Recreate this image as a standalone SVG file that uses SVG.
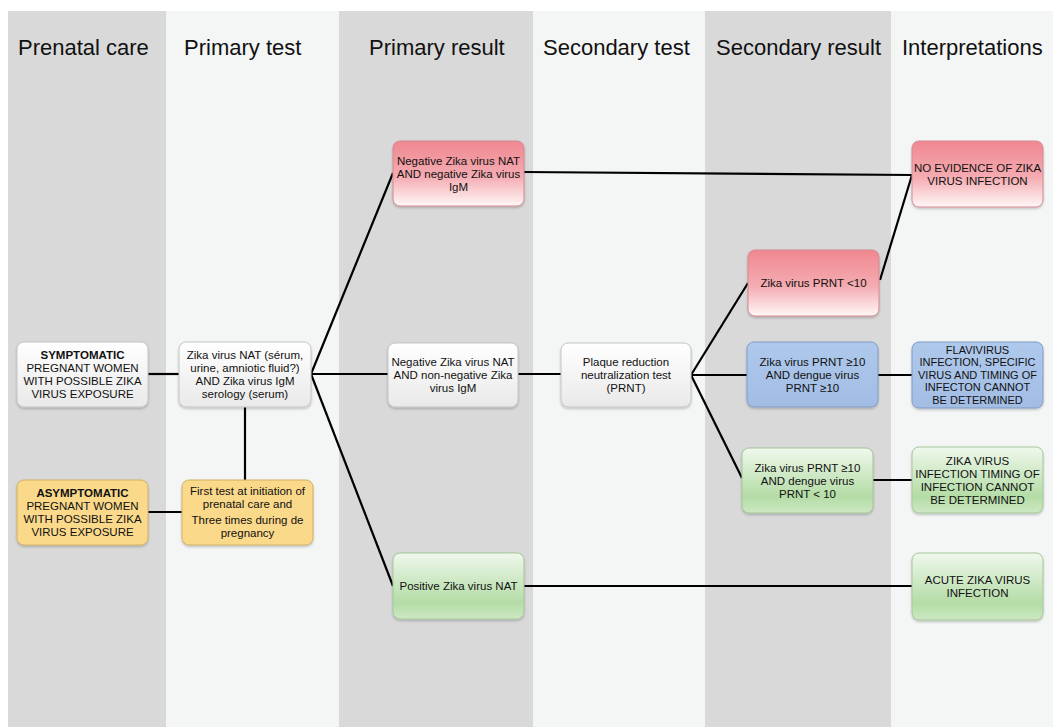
<svg xmlns="http://www.w3.org/2000/svg" width="1053" height="727" viewBox="0 0 1053 727">
<style>
.hdr{font-family:"Liberation Sans",Arial,sans-serif;font-size:22px;fill:#111}
.t{font-family:"Liberation Sans",Arial,sans-serif;font-size:11.5px;fill:#111;text-anchor:middle}
.s{font-size:11px}
.b{font-weight:bold}
.box{stroke-width:1;filter:url(#sh)}
.w{fill:url(#gw);stroke:#c4c4c4}
.r{fill:url(#gr);stroke:#d48a90}
.bl{fill:url(#gb);stroke:#7f9cc7}
.g{fill:url(#gg);stroke:#a5c69a}
.y{fill:#fbd98b;stroke:#d2b064}
.ln{stroke:#000;stroke-width:2.2;fill:none}
</style>
<defs>
<linearGradient id="gw" x1="0" y1="0" x2="0" y2="1"><stop offset="0" stop-color="#ffffff"/><stop offset="1" stop-color="#e9e9e9"/></linearGradient>
<linearGradient id="gr" x1="0" y1="0" x2="0" y2="1"><stop offset="0" stop-color="#f08790"/><stop offset="0.55" stop-color="#f4acb2"/><stop offset="1" stop-color="#fff7f7"/></linearGradient>
<linearGradient id="gb" x1="0" y1="0" x2="0" y2="1"><stop offset="0" stop-color="#afc9ec"/><stop offset="1" stop-color="#a2bce4"/></linearGradient>
<linearGradient id="gg" x1="0" y1="0" x2="0" y2="1"><stop offset="0" stop-color="#eff8ec"/><stop offset="0.75" stop-color="#b4dca6"/><stop offset="1" stop-color="#cde8c3"/></linearGradient>
<filter id="sh" x="-10%" y="-10%" width="120%" height="130%"><feDropShadow dx="0" dy="1.5" stdDeviation="1.2" flood-color="#000" flood-opacity="0.22"/></filter>
</defs>
<rect x="0" y="0" width="1053" height="727" fill="#ffffff"/>
<g id="bands">
<rect x="8" y="11" width="158" height="716" fill="#d9d9d9"/>
<rect x="166" y="11" width="173" height="716" fill="#f4f5f5"/>
<rect x="339" y="11" width="194" height="716" fill="#d9d9d9"/>
<rect x="533" y="11" width="172" height="716" fill="#f4f5f5"/>
<rect x="705" y="11" width="186" height="716" fill="#d9d9d9"/>
<rect x="891" y="11" width="162" height="716" fill="#f4f5f5"/>
</g>
<g id="headers">
<text class="hdr" x="18" y="55">Prenatal care</text>
<text class="hdr" x="184" y="55">Primary test</text>
<text class="hdr" x="369" y="55">Primary result</text>
<text class="hdr" x="543" y="55">Secondary test</text>
<text class="hdr" x="716" y="55">Secondary result</text>
<text class="hdr" x="902" y="55">Interpretations</text>
</g>
<g id="connectors">
<line class="ln" x1="148" y1="374" x2="179" y2="374"/>
<line class="ln" x1="245" y1="407" x2="245" y2="480"/>
<line class="ln" x1="148" y1="512" x2="182" y2="512"/>
<line class="ln" x1="311" y1="374" x2="393" y2="173"/>
<line class="ln" x1="311" y1="374" x2="388" y2="374"/>
<line class="ln" x1="311" y1="374" x2="393" y2="586"/>
<line class="ln" x1="524" y1="172" x2="912" y2="175"/>
<line class="ln" x1="518" y1="374" x2="561" y2="374"/>
<line class="ln" x1="691" y1="375" x2="748" y2="283"/>
<line class="ln" x1="691" y1="375" x2="747" y2="375"/>
<line class="ln" x1="691" y1="375" x2="742" y2="478"/>
<line class="ln" x1="880" y1="280" x2="912" y2="175"/>
<line class="ln" x1="878" y1="375" x2="912" y2="375"/>
<line class="ln" x1="873" y1="480" x2="912" y2="480"/>
<line class="ln" x1="524" y1="586" x2="912" y2="586"/>
</g>
<g id="symptomatic">
<rect class="box w" x="17" y="342" width="131" height="65" rx="7"/>
<text class="t b" x="82.5" y="359">SYMPTOMATIC</text>
<text class="t" x="82.5" y="372">PREGNANT WOMEN</text>
<text class="t" x="82.5" y="385">WITH POSSIBLE ZIKA</text>
<text class="t" x="82.5" y="398">VIRUS EXPOSURE</text>
</g>
<g id="asymptomatic">
<rect class="box y" x="17" y="480" width="131" height="65" rx="7"/>
<text class="t b" x="82.5" y="497">ASYMPTOMATIC</text>
<text class="t" x="82.5" y="510">PREGNANT WOMEN</text>
<text class="t" x="82.5" y="523">WITH POSSIBLE ZIKA</text>
<text class="t" x="82.5" y="536">VIRUS EXPOSURE</text>
</g>
<g id="primary-test">
<rect class="box w" x="179" y="342" width="132" height="65" rx="7"/>
<text class="t" x="245" y="359">Zika virus NAT (sérum,</text>
<text class="t" x="245" y="372">urine, amniotic fluid?)</text>
<text class="t" x="245" y="385">AND Zika virus IgM</text>
<text class="t" x="245" y="398">serology (serum)</text>
</g>
<g id="first-test">
<rect class="box y" x="182" y="480" width="131" height="65" rx="7"/>
<text class="t" x="247.5" y="494.5">First test at initiation of</text>
<text class="t" x="247.5" y="507.5">prenatal care and</text>
<text class="t" x="247.5" y="523.5">Three times during de</text>
<text class="t" x="247.5" y="536.5">pregnancy</text>
</g>
<g id="neg-neg">
<rect class="box r" x="393" y="141" width="131" height="65" rx="7"/>
<text class="t" x="458.5" y="164.5">Negative Zika virus NAT</text>
<text class="t" x="458.5" y="177.5">AND negative Zika virus</text>
<text class="t" x="458.5" y="190.5">IgM</text>
</g>
<g id="neg-nonneg">
<rect class="box w" x="388" y="343" width="130" height="64" rx="7"/>
<text class="t" x="453" y="366">Negative Zika virus NAT</text>
<text class="t" x="453" y="379">AND non-negative Zika</text>
<text class="t" x="453" y="392">virus IgM</text>
</g>
<g id="positive-nat">
<rect class="box g" x="393" y="553" width="131" height="66" rx="7"/>
<text class="t" x="458.5" y="590">Positive Zika virus NAT</text>
</g>
<g id="prnt">
<rect class="box w" x="561" y="343" width="130" height="64" rx="7"/>
<text class="t" x="626" y="366">Plaque reduction</text>
<text class="t" x="626" y="379">neutralization test</text>
<text class="t" x="626" y="392">(PRNT)</text>
</g>
<g id="prnt-lt10">
<rect class="box r" x="748" y="250" width="131" height="66" rx="7"/>
<text class="t" x="813.5" y="287">Zika virus PRNT &lt;10</text>
</g>
<g id="prnt-both">
<rect class="box bl" x="747" y="342" width="131" height="65" rx="7"/>
<text class="t" x="812.5" y="365.5">Zika virus PRNT ≥10</text>
<text class="t" x="812.5" y="378.5">AND dengue virus</text>
<text class="t" x="812.5" y="391.5">PRNT ≥10</text>
</g>
<g id="prnt-zika">
<rect class="box g" x="742" y="448" width="131" height="65" rx="7"/>
<text class="t" x="807.5" y="471.5">Zika virus PRNT ≥10</text>
<text class="t" x="807.5" y="484.5">AND dengue virus</text>
<text class="t" x="807.5" y="497.5">PRNT &lt; 10</text>
</g>
<g id="no-evidence">
<rect class="box r" x="912" y="141" width="131" height="66" rx="7"/>
<text class="t" x="977.5" y="171.5">NO EVIDENCE OF ZIKA</text>
<text class="t" x="977.5" y="184.5">VIRUS INFECTION</text>
</g>
<g id="flavivirus">
<rect class="box bl" x="912" y="342" width="131" height="66" rx="7"/>
<text class="t s" x="977.5" y="354">FLAVIVIRUS</text>
<text class="t s" x="977.5" y="366.4">INFECTION, SPECIFIC</text>
<text class="t s" x="977.5" y="378.8">VIRUS AND TIMING OF</text>
<text class="t s" x="977.5" y="391.2">INFECTON CANNOT</text>
<text class="t s" x="977.5" y="403.6">BE DETERMINED</text>
</g>
<g id="zika-timing">
<rect class="box g" x="912" y="447" width="131" height="66" rx="7"/>
<text class="t" x="977.5" y="464.5">ZIKA VIRUS</text>
<text class="t" x="977.5" y="477.5">INFECTION TIMING OF</text>
<text class="t" x="977.5" y="490.5">INFECTION CANNOT</text>
<text class="t" x="977.5" y="503.5">BE DETERMINED</text>
</g>
<g id="acute">
<rect class="box g" x="912" y="553" width="131" height="67" rx="7"/>
<text class="t" x="977.5" y="584">ACUTE ZIKA VIRUS</text>
<text class="t" x="977.5" y="597">INFECTION</text>
</g>
</svg>
